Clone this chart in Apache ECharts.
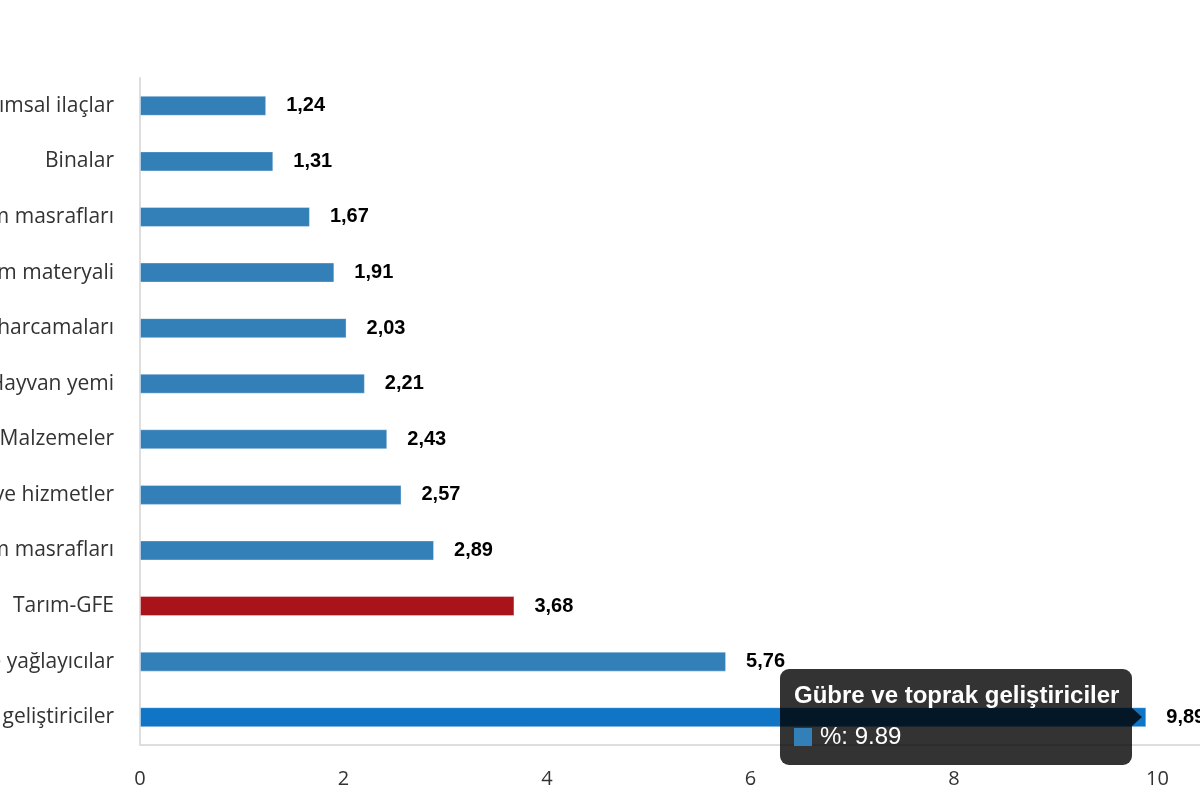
<!DOCTYPE html>
<html>
<head>
<meta charset="utf-8">
<script src="https://cdn.jsdelivr.net/npm/echarts@6/dist/echarts.min.js"></script>
<style>
  html, body { margin: 0; padding: 0; width: 1200px; height: 800px; overflow: hidden; background: #fff; }
  #chart { width: 1400px; height: 800px; }
</style>
</head>
<body>
<div id="chart"></div>
<script>
// Categories, top to bottom
const categories = [
  "Bitki koruma ürünleri ve tarımsal ilaçlar",
  "Binalar",
  "Bina bakım masrafları",
  "Tohum ve dikim materyali",
  "Veteriner harcamaları",
  "Hayvan yemi",
  "Küçük aletler ve Malzemeler",
  "Diğer mal ve hizmetler",
  "Makine ve ekipman bakım masrafları",
  "Tarım-GFE",
  "Enerji ve yağlayıcılar",
  "Gübre ve toprak geliştiriciler"
];
const values = [1.24, 1.31, 1.67, 1.91, 2.03, 2.21, 2.43, 2.57, 2.89, 3.68, 5.76, 9.89];
const highlightCategory = "Tarım-GFE";
const tooltipCategory = "Gübre ve toprak geliştiriciler";
const seriesName = "%";
const xTicks = [0, 2, 4, 6, 8, 10, 12];

const BLUE = '#337fb8';
const RED = '#a8141a';

const chart = echarts.init(document.getElementById('chart'), null, { renderer: 'canvas' });

const data = categories.map((c, i) => ({
  value: values[i],
  itemStyle: { color: c === highlightCategory ? RED : BLUE }
}));

chart.setOption({
  animation: false,
  grid: { left: 140, right: 39, top: 78, bottom: 55, containLabel: false, outerBoundsMode: 'none' },
  xAxis: {
    type: 'value',
    min: xTicks[0],
    max: xTicks[xTicks.length - 1],
    interval: 2,
    axisLine: { show: true, lineStyle: { color: '#dedede', width: 2 } },
    axisTick: { show: false },
    splitLine: { show: false },
    axisLabel: { color: '#333', fontSize: 20, fontFamily: 'Open Sans', margin: 24 }
  },
  yAxis: {
    type: 'category',
    data: categories,
    inverse: true,
    axisLine: { show: true, lineStyle: { color: '#dedede', width: 2 } },
    axisTick: { show: false },
    axisLabel: { color: '#333', fontSize: 21, fontFamily: 'Open Sans', margin: 26 }
  },
  tooltip: {
    show: true,
    trigger: 'item',
    alwaysShowContent: true,
    backgroundColor: 'rgba(0,0,0,0.8)',
    borderWidth: 0,
    padding: 0,
    transitionDuration: 0,
    extraCssText: 'border-radius:9px;box-shadow:none;',
    position: function (point, params, dom, rect, size) {
      const r = rect;
      const w = size.contentSize[0], h = size.contentSize[1];
      return [r.x + r.width - w - 14, r.y + r.height / 2 - h / 2];
    },
    formatter: function (p) {
      const v = String(p.value);
      return '<div style="position:relative;padding:12px 13px 14px 14px;font-family:Arial,\'Liberation Sans\',sans-serif;color:#fff;">' +
        '<div style="font-weight:bold;font-size:24px;line-height:28px;white-space:nowrap;">' + p.name + '</div>' +
        '<div style="margin-top:12px;font-size:24px;line-height:30px;white-space:nowrap;">' +
        '<span style="display:inline-block;width:18px;height:18px;background:' + BLUE + ';vertical-align:-2px;margin-right:8px;"></span>' +
        seriesName + ': ' + v + '</div>' +
        '<div style="position:absolute;right:-10px;top:50%;margin-top:-9px;width:0;height:0;border-top:9px solid transparent;border-bottom:9px solid transparent;border-left:10px solid rgba(0,0,0,0.8);"></div>' +
        '</div>';
    }
  },
  series: [{
    name: seriesName,
    type: 'bar',
    data: data,
    barWidth: 20,
    itemStyle: { borderColor: 'rgba(255,255,255,0.35)', borderWidth: 1 },
    emphasis: { itemStyle: { color: '#0f75c4' } },
    label: {
      show: true,
      position: 'right',
      distance: 20,
      color: '#000',
      fontWeight: 'bold',
      fontSize: 20,
      fontFamily: 'Arial, "Liberation Sans", sans-serif',
      formatter: function (p) { return p.value.toFixed(2).replace('.', ','); }
    }
  }]
});

const idx = categories.indexOf(tooltipCategory);
chart.dispatchAction({ type: 'highlight', seriesIndex: 0, dataIndex: idx });
chart.dispatchAction({ type: 'showTip', seriesIndex: 0, dataIndex: idx });
</script>
</body>
</html>
